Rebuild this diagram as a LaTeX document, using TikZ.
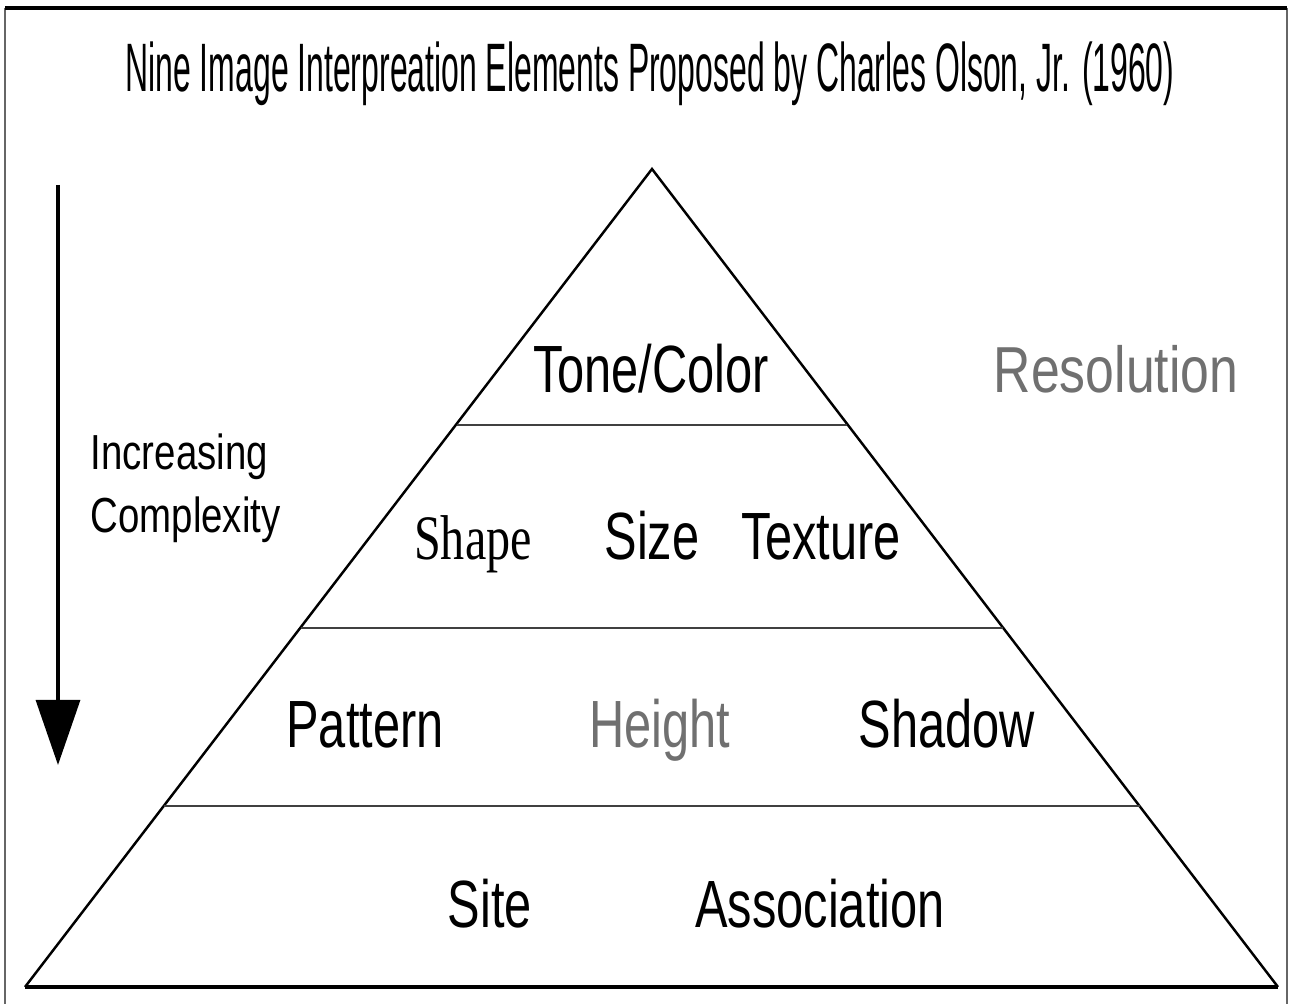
\documentclass[tikz,border=0pt]{standalone}
\usepackage{fontspec}
\setmainfont{Liberation Sans}
\newfontfamily\lblfont[FakeStretch=0.73]{Liberation Sans}
\newfontfamily\sidefont[FakeStretch=0.78]{Liberation Sans}
\newfontfamily\resfont[FakeStretch=0.795]{Liberation Sans}
\newfontfamily\ttlfont[FakeStretch=0.466]{Liberation Sans}
\newfontfamily\serffont[FakeStretch=0.76]{Liberation Serif}
\usetikzlibrary{arrows.meta}
\definecolor{softgray}{HTML}{707070}
\tikzset{
  lbl/.style={anchor=base, inner sep=0pt, font=\lblfont\fontsize{19}{22}\selectfont},
  grylbl/.style={lbl, text=softgray},
  sidelbl/.style={anchor=base west, inner sep=0pt, font=\sidefont\fontsize{14}{17}\selectfont},
}
\begin{document}
\begin{tikzpicture}[x=0.01cm, y=-0.01cm]
\useasboundingbox (0,0) rectangle (1293,1004);

% frame
\draw[line width=0.5pt, black!60] (5,1004) -- (5,8);
\draw[line width=0.5pt, black!60] (1287,8) -- (1287,1004);
\draw[line width=1pt] (5,8) -- (1287,8);

\node[anchor=base, inner sep=0pt, font=\ttlfont\fontsize{19.5}{22}\selectfont] (ttl) at (650,92)
  {Nine Image Interpreation Elements Proposed by Charles Olson, Jr. (1960)};

% pyramid
\coordinate (apex) at (652,169);
\coordinate (bl) at (25,987);
\coordinate (br) at (1278,987);
\draw[line width=0.7pt] (bl) -- (apex) -- (br);
\draw[line width=1.1pt] (bl) -- (br);
\draw[line width=0.45pt, black!75] (457,425) -- (847,425);
\draw[line width=0.45pt, black!75] (301,628) -- (1003,628);
\draw[line width=0.45pt, black!75] (164,806) -- (1140,806);

\node[lbl] (tone) at (651,393) {Tone/Color};
\node[grylbl, font=\resfont\fontsize{18.5}{22}\selectfont] (res) at (1116,393) {Resolution};

\node[lbl, font=\serffont\fontsize{18}{22}\selectfont] (shape) at (473,560) {Shape};
\node[lbl] (size) at (652,560) {Size};
\node[lbl] (texture) at (821,560) {Texture};

\node[lbl] (pattern) at (365,748) {Pattern};
\node[grylbl] (height) at (660,748) {Height};
\node[lbl] (shadow) at (947,748) {Shadow};

\node[lbl] (site) at (490,928) {Site};
\node[lbl] (assoc) at (820,928) {Association};

% complexity arrow
\coordinate (arrtop) at (58,185);
\coordinate (arrtip) at (58,765);
\draw[line width=0.9pt, -{Triangle[width=0.44cm, length=0.65cm]}] (arrtop) -- (arrtip);
\node[sidelbl] (incr) at (90,470) {Increasing};
\node[sidelbl] (cmplx) at (90,533) {Complexity};
\end{tikzpicture}
\end{document}
